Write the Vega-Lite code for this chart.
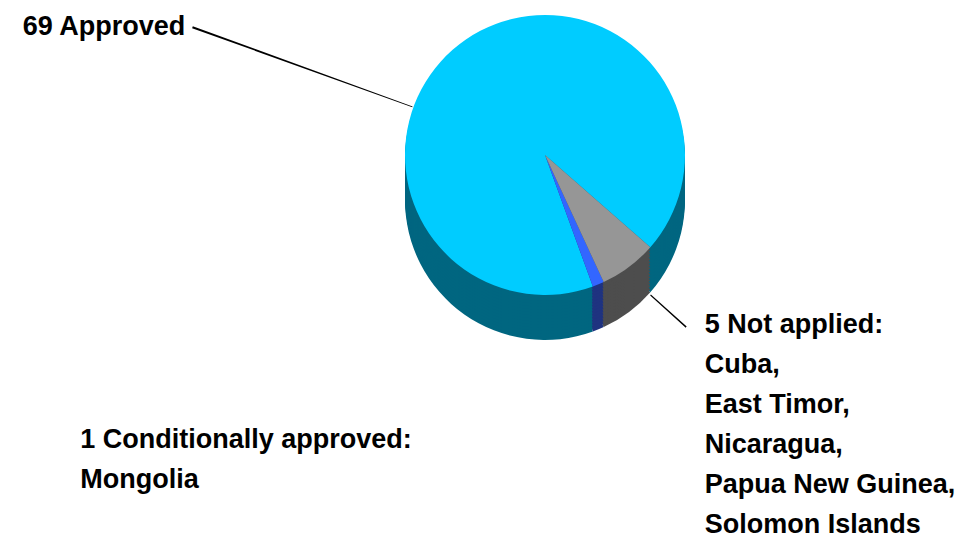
{
  "$schema": "https://vega.github.io/schema/vega-lite/v6.json",
  "width": 838,
  "height": 310,
  "autosize": {"type": "none"},
  "padding": {"left": 126, "top": 0, "right": 0, "bottom": 229},
  "background": "white",
  "config": {"view": {"stroke": null}},
  "data": {"values": [
    {"status": "Approved", "count": 69, "label": "69 Approved"},
    {"status": "Conditionally approved", "count": 1, "label": "1 Conditionally approved:\nMongolia"},
    {"status": "Not applied", "count": 5, "label": "5 Not applied:\nCuba,\nEast Timor,\nNicaragua,\nPapua New Guinea,\nSolomon Islands"}
  ]},
  "encoding": {
    "theta": {"field": "count", "type": "quantitative", "stack": true, "scale": {"range": [2.7925, 9.0757]}},
    "order": {"field": "count", "type": "quantitative", "sort": "descending"},
    "detail": {"field": "status", "type": "nominal"},
    "color": {"field": "status", "type": "nominal", "legend": null,
      "scale": {"domain": ["Approved", "Conditionally approved", "Not applied"], "range": ["#006680", "#1f3380", "#4d4d4d"]}}
  },
  "layer": [
    {"mark": {"type": "arc", "outerRadius": 140, "yOffset": 45}},
    {"mark": {"type": "arc", "outerRadius": 140, "yOffset": 42}},
    {"mark": {"type": "arc", "outerRadius": 140, "yOffset": 39}},
    {"mark": {"type": "arc", "outerRadius": 140, "yOffset": 36}},
    {"mark": {"type": "arc", "outerRadius": 140, "yOffset": 33}},
    {"mark": {"type": "arc", "outerRadius": 140, "yOffset": 30}},
    {"mark": {"type": "arc", "outerRadius": 140, "yOffset": 27}},
    {"mark": {"type": "arc", "outerRadius": 140, "yOffset": 24}},
    {"mark": {"type": "arc", "outerRadius": 140, "yOffset": 21}},
    {"mark": {"type": "arc", "outerRadius": 140, "yOffset": 18}},
    {"mark": {"type": "arc", "outerRadius": 140, "yOffset": 15}},
    {"mark": {"type": "arc", "outerRadius": 140, "yOffset": 12}},
    {"mark": {"type": "arc", "outerRadius": 140, "yOffset": 9}},
    {"mark": {"type": "arc", "outerRadius": 140, "yOffset": 6}},
    {"mark": {"type": "arc", "outerRadius": 140, "yOffset": 3}},
    {
      "layer": [
        {
          "mark": {"type": "arc", "outerRadius": 140},
          "encoding": {"color": {"field": "status", "type": "nominal", "legend": null,
            "scale": {"domain": ["Approved", "Conditionally approved", "Not applied"], "range": ["#00ccff", "#3366ff", "#969696"]}}}
        },
        {
          "mark": {"type": "arc", "outerRadius": 375, "innerRadius": 141, "color": "black"},
          "encoding": {
            "color": {"value": "black"},
            "theta": {"value": 5.0575}, "theta2": {"value": 5.0630},
            "opacity": {"condition": {"test": "datum.status === 'Approved'", "value": 1}, "value": 0}}
        },
        {
          "mark": {"type": "arc", "outerRadius": 190, "innerRadius": 142, "yOffset": 45, "color": "black"},
          "encoding": {
            "color": {"value": "black"},
            "theta": {"value": 2.3000}, "theta2": {"value": 2.3075},
            "opacity": {"condition": {"test": "datum.status === 'Not applied'", "value": 1}, "value": 0}}
        },
        {
          "mark": {"type": "text", "radius": 150, "align": "right", "baseline": "alphabetic", "dx": -275, "dy": 4,
            "font": "Liberation Sans", "fontSize": 27, "fontWeight": "bold", "lineBreak": "\n", "lineHeight": 40},
          "encoding": {"color": {"value": "black"},
            "text": {"condition": {"test": "datum.status === 'Approved'", "field": "label", "type": "nominal"}, "value": ""}}
        },
        {
          "mark": {"type": "text", "radius": 200, "align": "left", "baseline": "alphabetic", "dx": 40, "dy": 18,
            "font": "Liberation Sans", "fontSize": 27, "fontWeight": "bold", "lineBreak": "\n", "lineHeight": 40},
          "encoding": {"color": {"value": "black"},
            "text": {"condition": {"test": "datum.status === 'Not applied'", "field": "label", "type": "nominal"}, "value": ""}}
        },
        {
          "mark": {"type": "text", "radius": 200, "align": "left", "baseline": "alphabetic", "dx": -541, "dy": 108,
            "font": "Liberation Sans", "fontSize": 27, "fontWeight": "bold", "lineBreak": "\n", "lineHeight": 40},
          "encoding": {"color": {"value": "black"},
            "text": {"condition": {"test": "datum.status === 'Conditionally approved'", "field": "label", "type": "nominal"}, "value": ""}}
        }
      ]
    }
  ],
  "resolve": {"scale": {"color": "independent"}}
}
